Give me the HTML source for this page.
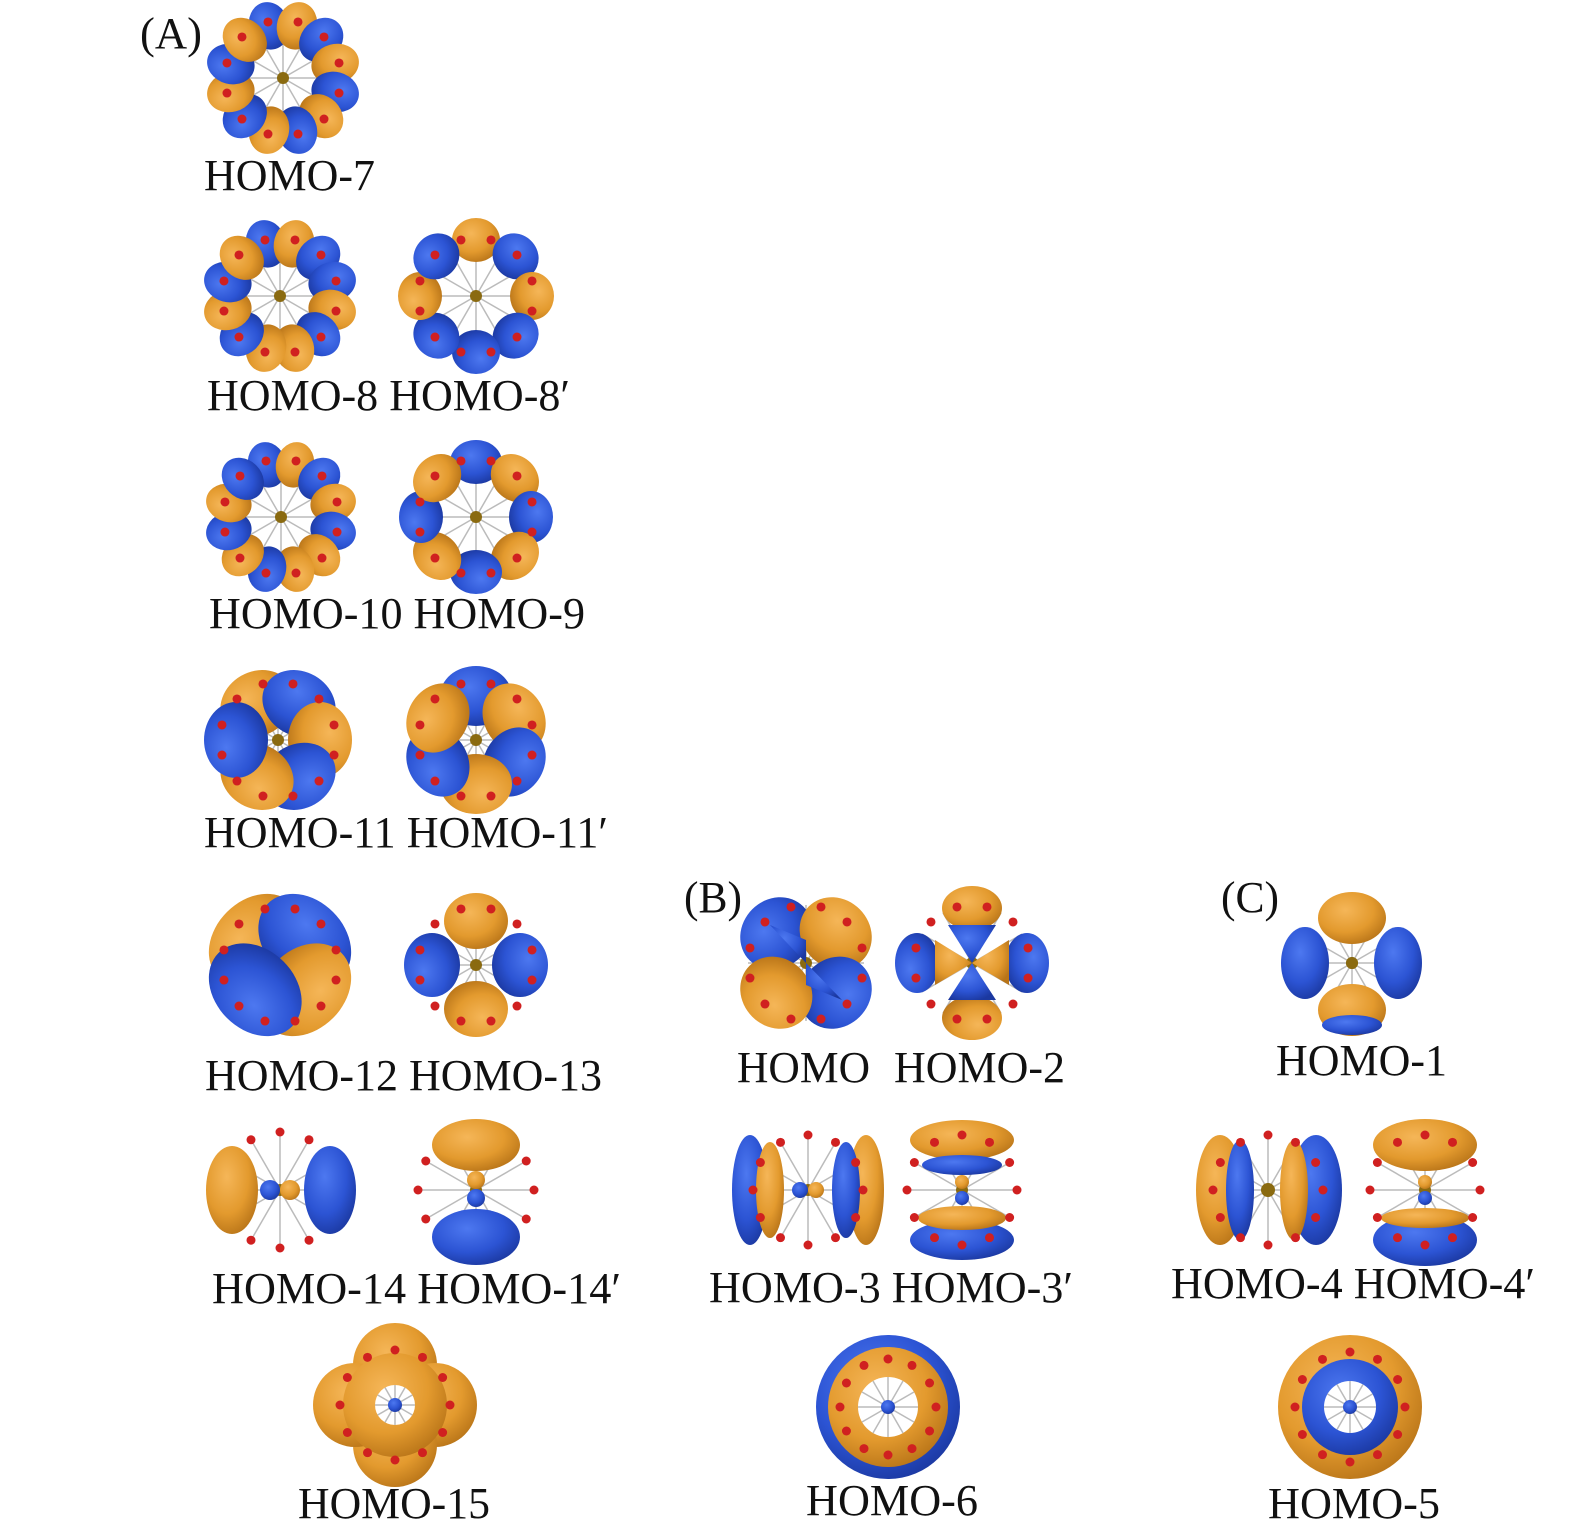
<!DOCTYPE html>
<html><head><meta charset="utf-8">
<style>
html,body{margin:0;padding:0;background:#fff;}
svg{display:block;}
text{font-family:"Liberation Serif",serif;font-size:44px;fill:#111;}
</style></head>
<body>
<svg id="s" width="1575" height="1528" viewBox="0 0 1575 1528" xmlns="http://www.w3.org/2000/svg">
<defs>
<radialGradient id="go" cx="40%" cy="35%" r="70%"><stop offset="0" stop-color="#F5B658"/><stop offset="0.6" stop-color="#E39A2E"/><stop offset="1" stop-color="#B87418"/></radialGradient>
<radialGradient id="gb" cx="40%" cy="35%" r="70%"><stop offset="0" stop-color="#4D78F0"/><stop offset="0.6" stop-color="#2C54D4"/><stop offset="1" stop-color="#1B38A0"/></radialGradient>
</defs>
<g id="g"></g>
<text x="140" y="48" textLength="62" lengthAdjust="spacingAndGlyphs">(A)</text>
<text x="684" y="912" textLength="58" lengthAdjust="spacingAndGlyphs">(B)</text>
<text x="1221" y="912" textLength="58" lengthAdjust="spacingAndGlyphs">(C)</text>
<text x="204" y="190" textLength="171" lengthAdjust="spacingAndGlyphs">HOMO-7</text>
<text x="207" y="410" textLength="363" lengthAdjust="spacingAndGlyphs">HOMO-8 HOMO-8′</text>
<text x="209" y="628" textLength="376" lengthAdjust="spacingAndGlyphs">HOMO-10 HOMO-9</text>
<text x="204" y="847" textLength="404" lengthAdjust="spacingAndGlyphs">HOMO-11 HOMO-11′</text>
<text x="205" y="1090" textLength="397" lengthAdjust="spacingAndGlyphs">HOMO-12 HOMO-13</text>
<text x="212" y="1303" textLength="409" lengthAdjust="spacingAndGlyphs">HOMO-14 HOMO-14′</text>
<text x="298" y="1518" textLength="192" lengthAdjust="spacingAndGlyphs">HOMO-15</text>
<text x="737" y="1082" textLength="133" lengthAdjust="spacingAndGlyphs">HOMO</text>
<text x="894" y="1082" textLength="171" lengthAdjust="spacingAndGlyphs">HOMO-2</text>
<text x="709" y="1302" textLength="364" lengthAdjust="spacingAndGlyphs">HOMO-3 HOMO-3′</text>
<text x="806" y="1515" textLength="172" lengthAdjust="spacingAndGlyphs">HOMO-6</text>
<text x="1276" y="1075" textLength="171" lengthAdjust="spacingAndGlyphs">HOMO-1</text>
<text x="1171" y="1298" textLength="364" lengthAdjust="spacingAndGlyphs">HOMO-4 HOMO-4′</text>
<text x="1268" y="1518" textLength="172" lengthAdjust="spacingAndGlyphs">HOMO-5</text>
</svg>
<script>
var g=document.getElementById('g'),NS='http://www.w3.org/2000/svg';
function el(t,a){var e=document.createElementNS(NS,t);for(var k in a)e.setAttribute(k,a[k]);g.appendChild(e);return e;}
var O='url(#go)',B='url(#gb)';
function spokes(cx,cy,R,n){for(var i=0;i<n;i++){var a=i*2*Math.PI/n;el('line',{x1:cx,y1:cy,x2:cx+R*Math.cos(a),y2:cy+R*Math.sin(a),stroke:'#bbb','stroke-width':1.5});}
 el('circle',{cx:cx,cy:cy,r:6,fill:'#8a6a10'});}
function atoms(cx,cy,R,n,off){for(var i=0;i<n;i++){var a=off+i*2*Math.PI/n;el('circle',{cx:cx+R*Math.cos(a),cy:cy+R*Math.sin(a),r:4.5,fill:'#d02020'});}}
function ring(cx,cy,n,off,rx,ry,R,cols){spokes(cx,cy,58,12);
 for(var i=0;i<n;i++){var a=off+i*2*Math.PI/n;var x=cx+R*Math.cos(a),y=cy+R*Math.sin(a);
 el('ellipse',{cx:x,cy:y,rx:rx,ry:ry,fill:cols[i%cols.length],transform:'rotate('+(a*180/Math.PI+90)+' '+x+' '+y+')'});}
 atoms(cx,cy,58,12,Math.PI/12);}
var d=Math.PI/180;
ring(283,78,12,-105*d,20,24,54,[B,O]);
ring(280,296,12,-105*d,20,24,54,[B,O,B,B,O,B,O,O,B,O,B,O]);
ring(476,296,8,-90*d,24,22,56,[O,B,O,B,B,B,O,B]);
ring(281,517,12,-105*d,19,23,54,[B,O,B,O,B,O,O,B,O,B,O,B]);
ring(476,517,8,-90*d,26,22,55,[B,O,B,O,B,O,B,O]);
ring(278,740,6,-120*d,38,32,42,[O,B,O,B,O,B]);
ring(476,740,6,-90*d,36,30,44,[B,O,B,O,B,O]);
ring(280,965,4,-135*d,52,40,35,[O,B,O,B]);
ring(476,965,4,-90*d,32,28,44,[O,B,O,B]);
spokes(280,1190,55,12);atoms(280,1190,58,12,0);
el('ellipse',{cx:232,cy:1190,rx:26,ry:44,fill:O});el('ellipse',{cx:330,cy:1190,rx:26,ry:44,fill:B});
el('circle',{cx:270,cy:1190,r:10,fill:B});el('circle',{cx:290,cy:1190,r:10,fill:O});
spokes(476,1190,55,12);atoms(476,1190,58,12,0);
el('ellipse',{cx:476,cy:1145,rx:44,ry:26,fill:O});el('ellipse',{cx:476,cy:1237,rx:44,ry:28,fill:B});
el('circle',{cx:476,cy:1180,r:9,fill:O});el('circle',{cx:476,cy:1198,r:9,fill:B});
[[0,-40],[40,0],[0,40],[-40,0]].forEach(function(p){el('circle',{cx:395+p[0],cy:1405+p[1],r:42,fill:O});});
el('circle',{cx:395,cy:1405,r:52,fill:O});el('circle',{cx:395,cy:1405,r:20,fill:'#fff'});spokes(395,1405,20,12);el('circle',{cx:395,cy:1405,r:7,fill:B});
atoms(395,1405,55,12,0);
ring(806,963,4,-135*d,38,34,42,[B,O,B,O]);
el('path',{d:'M806 963 L770 925 L806 940Z',fill:B});el('path',{d:'M806 963 L842 1000 L806 985Z',fill:B});
ring(972,963,4,0,30,22,55,[B,O,B,O]);
el('path',{d:'M972 963 L948 925 L996 925Z',fill:B});el('path',{d:'M972 963 L948 1000 L996 1000Z',fill:B});
el('path',{d:'M972 963 L935 940 L935 985Z',fill:O});el('path',{d:'M972 963 L1009 940 L1009 985Z',fill:O});
spokes(808,1190,55,12);
el('ellipse',{cx:750,cy:1190,rx:18,ry:55,fill:B});el('ellipse',{cx:770,cy:1190,rx:14,ry:48,fill:O});
el('ellipse',{cx:866,cy:1190,rx:18,ry:55,fill:O});el('ellipse',{cx:846,cy:1190,rx:14,ry:48,fill:B});
el('circle',{cx:800,cy:1190,r:8,fill:B});el('circle',{cx:816,cy:1190,r:8,fill:O});atoms(808,1190,55,12,0);
spokes(962,1190,55,12);
el('ellipse',{cx:962,cy:1140,rx:52,ry:20,fill:O});el('ellipse',{cx:962,cy:1240,rx:52,ry:20,fill:B});
el('ellipse',{cx:962,cy:1218,rx:44,ry:12,fill:O});el('ellipse',{cx:962,cy:1165,rx:40,ry:10,fill:B});
el('circle',{cx:962,cy:1182,r:7,fill:O});el('circle',{cx:962,cy:1198,r:7,fill:B});atoms(962,1190,55,12,0);
el('circle',{cx:888,cy:1407,r:72,fill:B});el('circle',{cx:888,cy:1407,r:60,fill:O});el('circle',{cx:888,cy:1407,r:30,fill:'#fff'});
spokes(888,1407,30,12);el('circle',{cx:888,cy:1407,r:7,fill:B});atoms(888,1407,48,12,0);
spokes(1352,963,45,12);
el('ellipse',{cx:1352,cy:918,rx:34,ry:26,fill:O});el('ellipse',{cx:1352,cy:1010,rx:34,ry:26,fill:O});
el('ellipse',{cx:1305,cy:963,rx:24,ry:36,fill:B});el('ellipse',{cx:1398,cy:963,rx:24,ry:36,fill:B});
el('ellipse',{cx:1352,cy:1025,rx:30,ry:10,fill:B});el('circle',{cx:1352,cy:963,r:6,fill:'#8a6a10'});
spokes(1268,1190,55,12);
el('ellipse',{cx:1220,cy:1190,rx:24,ry:55,fill:O});el('ellipse',{cx:1240,cy:1190,rx:14,ry:50,fill:B});
el('ellipse',{cx:1316,cy:1190,rx:26,ry:55,fill:B});el('ellipse',{cx:1294,cy:1190,rx:14,ry:50,fill:O});
el('circle',{cx:1268,cy:1190,r:7,fill:'#8a6a10'});atoms(1268,1190,55,12,0);
spokes(1425,1190,55,12);
el('ellipse',{cx:1425,cy:1145,rx:52,ry:26,fill:O});el('ellipse',{cx:1425,cy:1240,rx:52,ry:26,fill:B});
el('ellipse',{cx:1425,cy:1218,rx:44,ry:10,fill:O});
el('circle',{cx:1425,cy:1182,r:7,fill:O});el('circle',{cx:1425,cy:1198,r:7,fill:B});atoms(1425,1190,55,12,0);
el('circle',{cx:1350,cy:1407,r:72,fill:O});el('circle',{cx:1350,cy:1407,r:48,fill:B});el('circle',{cx:1350,cy:1407,r:26,fill:'#fff'});
spokes(1350,1407,26,12);el('circle',{cx:1350,cy:1407,r:7,fill:B});atoms(1350,1407,55,12,0);
</script>
</body></html>
